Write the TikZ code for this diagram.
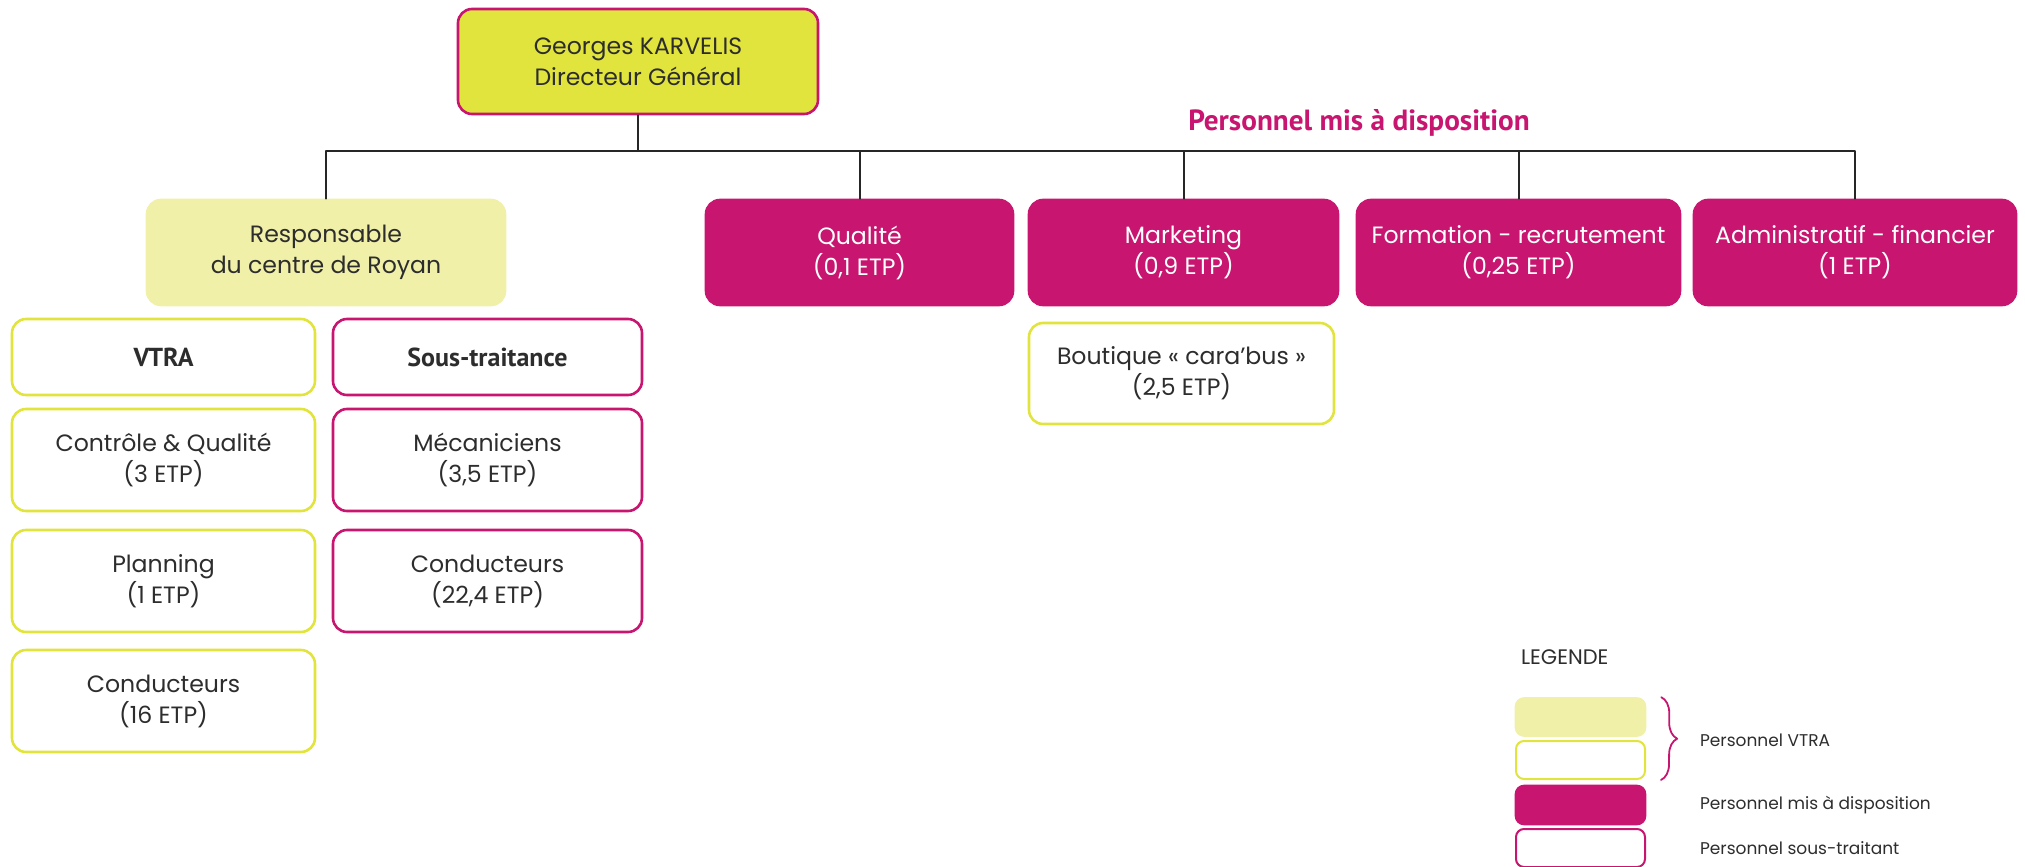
\documentclass[tikz,border=0pt]{standalone}
\usepackage{fontspec}
\setmainfont{Poppins}
\newfontfamily\narrowfont{PT Sans}
\usetikzlibrary{decorations.pathreplacing}
\definecolor{mdmagenta}{RGB}{199,21,112}
\definecolor{vtrayellow}{RGB}{226,228,62}
\definecolor{vtralight}{RGB}{240,240,168}
\definecolor{inkgray}{RGB}{45,45,45}
\begin{document}
\begin{tikzpicture}[x=0.5pt,y=-0.5pt,font=\fontsize{11.8}{15.5}\selectfont,line join=round,line cap=round,
	box/.style={rounded corners=7pt,align=center,inner sep=0pt,text=inkgray,line width=1.3pt},
	dgbox/.style={box,draw=mdmagenta,fill=vtrayellow},
	lightbox/.style={box,draw=vtralight,fill=vtralight},
	mdbox/.style={box,draw=mdmagenta,fill=mdmagenta,text=white},
	vtrabox/.style={box,draw=vtrayellow,fill=white},
	soubox/.style={box,draw=mdmagenta,fill=white},
	link/.style={draw=black!85,line width=1pt},
	legtext/.style={anchor=west,text=inkgray,font=\fontsize{8.5}{10}\selectfont}]
	\useasboundingbox (0,0) rectangle (2025,867);
	\node[dgbox,minimum width=180pt,minimum height=52.5pt] (dg) at (638,61.5) {Georges KARVELIS\\Directeur Général};
	\coordinate (bus) at (640,151);
	\node[lightbox,minimum width=179pt,minimum height=52.5pt] (resp) at (326,252.5) {Responsable\\du centre de Royan};
	\node[mdbox,minimum width=153.5pt,minimum height=52.5pt] (qual) at (859.5,252.5) {Qualité\\(0,1 ETP)};
	\node[mdbox,minimum width=154.5pt,minimum height=52.5pt] (mkt) at (1183.5,252.5) {Marketing\\(0,9 ETP)};
	\node[mdbox,minimum width=161.5pt,minimum height=52.5pt] (form) at (1518.5,252.5) {Formation - recrutement\\(0,25 ETP)};
	\node[mdbox,minimum width=161pt,minimum height=52.5pt] (adm) at (1855,252.5) {Administratif - financier\\(1 ETP)};
	\node[vtrabox,minimum width=152.5pt,minimum height=50.5pt] (bout) at (1181.5,373.5) {Boutique « cara’bus »\\(2,5 ETP)};
	\node[text=mdmagenta,font=\narrowfont\bfseries\fontsize{14.6}{16}\selectfont] (mad) at (1359,123) {Personnel mis à disposition};
	\node[vtrabox,minimum width=151.5pt,minimum height=38pt,font=\narrowfont\bfseries\fontsize{13}{15}\selectfont] (vtra) at (163.5,357) {VTRA};
	\node[soubox,minimum width=154.5pt,minimum height=38pt,font=\narrowfont\bfseries\fontsize{13}{15}\selectfont] (sous) at (487.5,357) {Sous-traitance};
	\node[vtrabox,minimum width=151.5pt,minimum height=51pt] (ctrl) at (163.5,460) {Contrôle \& Qualité\\(3 ETP)};
	\node[soubox,minimum width=154.5pt,minimum height=51pt] (meca) at (487.5,460) {Mécaniciens\\(3,5 ETP)};
	\node[vtrabox,minimum width=151.5pt,minimum height=51pt] (plan) at (163.5,581) {Planning\\(1 ETP)};
	\node[soubox,minimum width=154.5pt,minimum height=51pt] (condst) at (487.5,581) {Conducteurs\\(22,4 ETP)};
	\node[vtrabox,minimum width=151.5pt,minimum height=51pt] (condvt) at (163.5,701) {Conducteurs\\(16 ETP)};
	\draw[link] (dg.south) -- (dg.south |- bus);
	\draw[link] (resp.north) -- (resp.north |- bus) -- (adm.north |- bus) -- (adm.north);
	\draw[link] (qual.north) -- (qual.north |- bus);
	\draw[link] (mkt.north) -- (mkt.north |- bus);
	\draw[link] (form.north) -- (form.north |- bus);
	\node[legtext,font=\fontsize{10.5}{12}\selectfont] (leg) at (1514,657) {LEGENDE};
	\node[lightbox,minimum width=64.5pt,minimum height=18.5pt,rounded corners=4pt] (lg1) at (1580.5,717) {};
	\node[vtrabox,minimum width=64.5pt,minimum height=19pt,rounded corners=4pt,line width=1pt] (lg2) at (1580.5,760) {};
	\node[mdbox,minimum width=64.5pt,minimum height=19pt,rounded corners=4pt] (lg3) at (1580.5,805) {};
	\node[soubox,minimum width=64.5pt,minimum height=19pt,rounded corners=4pt,line width=1pt] (lg4) at (1580.5,848) {};
	\draw[mdmagenta,line width=0.9pt,decorate,decoration={brace,amplitude=8pt}] ([xshift=7.5pt]lg1.north east) -- ([xshift=7.5pt]lg2.south east);
	\node[legtext] (lgt1) at (1693,740) {Personnel VTRA};
	\node[legtext] (lgt3) at (1693,805) {Personnel mis à disposition};
	\node[legtext] (lgt4) at (1693,848) {Personnel sous-traitant};
\end{tikzpicture}
\end{document}
